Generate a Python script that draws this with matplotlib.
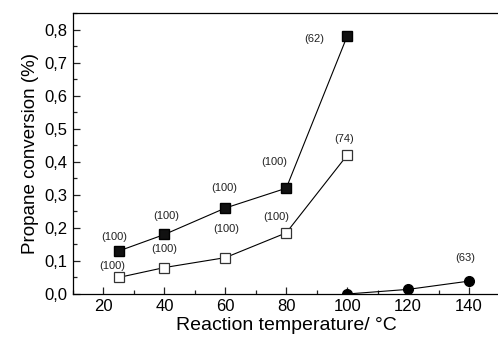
import matplotlib
matplotlib.use('Agg')
import matplotlib.pyplot as plt
from matplotlib.ticker import FuncFormatter, MultipleLocator

plt.rcParams['font.family'] = ['Liberation Sans', 'DejaVu Sans']

# data
temp_a = [25, 40, 60, 80, 100]
conv_filled = [0.13, 0.18, 0.26, 0.32, 0.78]
conv_open = [0.05, 0.08, 0.11, 0.185, 0.42]
temp_b = [100, 120, 140]
conv_circle = [0.0, 0.014, 0.039]

labels_filled = ['(100)', '(100)', '(100)', '(100)', '(62)']
labels_open = ['(100)', '(100)', '(100)', '(100)', '(74)']
labels_circle = ['', '', '(63)']

# label offsets in pixels from the marker
offs_filled = [(-4, 14), (2, 18), (-1, 20), (-12, 26), (-33, -3)]
offs_open = [(-6, 11), (0, 19), (1, 29), (-10, 16), (-3, 16)]
offs_circle = [(0, 0), (0, 0), (-4, 23)]

fig = plt.figure(figsize=(4.98, 3.42), dpi=100)
ax = fig.add_axes([73 / 498, 48 / 342, 426.5 / 498, 281 / 342])

ax.plot(temp_a, conv_filled, '-s', color='black', mfc='#111111', mec='black',
        ms=6.5, lw=0.8)
ax.plot(temp_a, conv_open, '-s', color='black', mfc='white', mec='#333333',
        ms=6.5, lw=0.8, mew=0.9)
ax.plot(temp_b, conv_circle, '-o', color='black', mfc='black', ms=7, lw=0.8)

for xs, ys, labs, offs in [(temp_a, conv_filled, labels_filled, offs_filled),
                           (temp_a, conv_open, labels_open, offs_open),
                           (temp_b, conv_circle, labels_circle, offs_circle)]:
    for x, y, lab, off in zip(xs, ys, labs, offs):
        if lab:
            ax.annotate(lab, (x, y), xytext=off, textcoords='offset pixels',
                        ha='center', va='center', fontsize=8, color='#222222')

ax.set_xlim(10, 150)
ax.set_ylim(0, 0.85)
ax.xaxis.set_major_locator(MultipleLocator(20))
ax.xaxis.set_minor_locator(MultipleLocator(10))
ax.yaxis.set_major_locator(MultipleLocator(0.1))
ax.yaxis.set_minor_locator(MultipleLocator(0.05))
ax.yaxis.set_major_formatter(FuncFormatter(lambda v, _: f'{v:.1f}'.replace('.', ',')))
ax.set_xticks([20, 40, 60, 80, 100, 120, 140])

ax.tick_params(which='both', direction='in', top=False, right=False,
               labelsize=12, width=0.9, color='#222222')
ax.tick_params(which='major', length=5)
ax.tick_params(which='minor', length=3)
ax.tick_params(axis='y', pad=4)
ax.spines['right'].set_visible(False)
for s in ['left', 'bottom', 'top']:
    ax.spines[s].set_linewidth(0.9)

ax.set_xlabel('Reaction temperature/ °C', fontsize=14, labelpad=2)
ax.set_ylabel('Propane conversion (%)', fontsize=13.5, labelpad=4)

fig.savefig('out.png', dpi=100)
